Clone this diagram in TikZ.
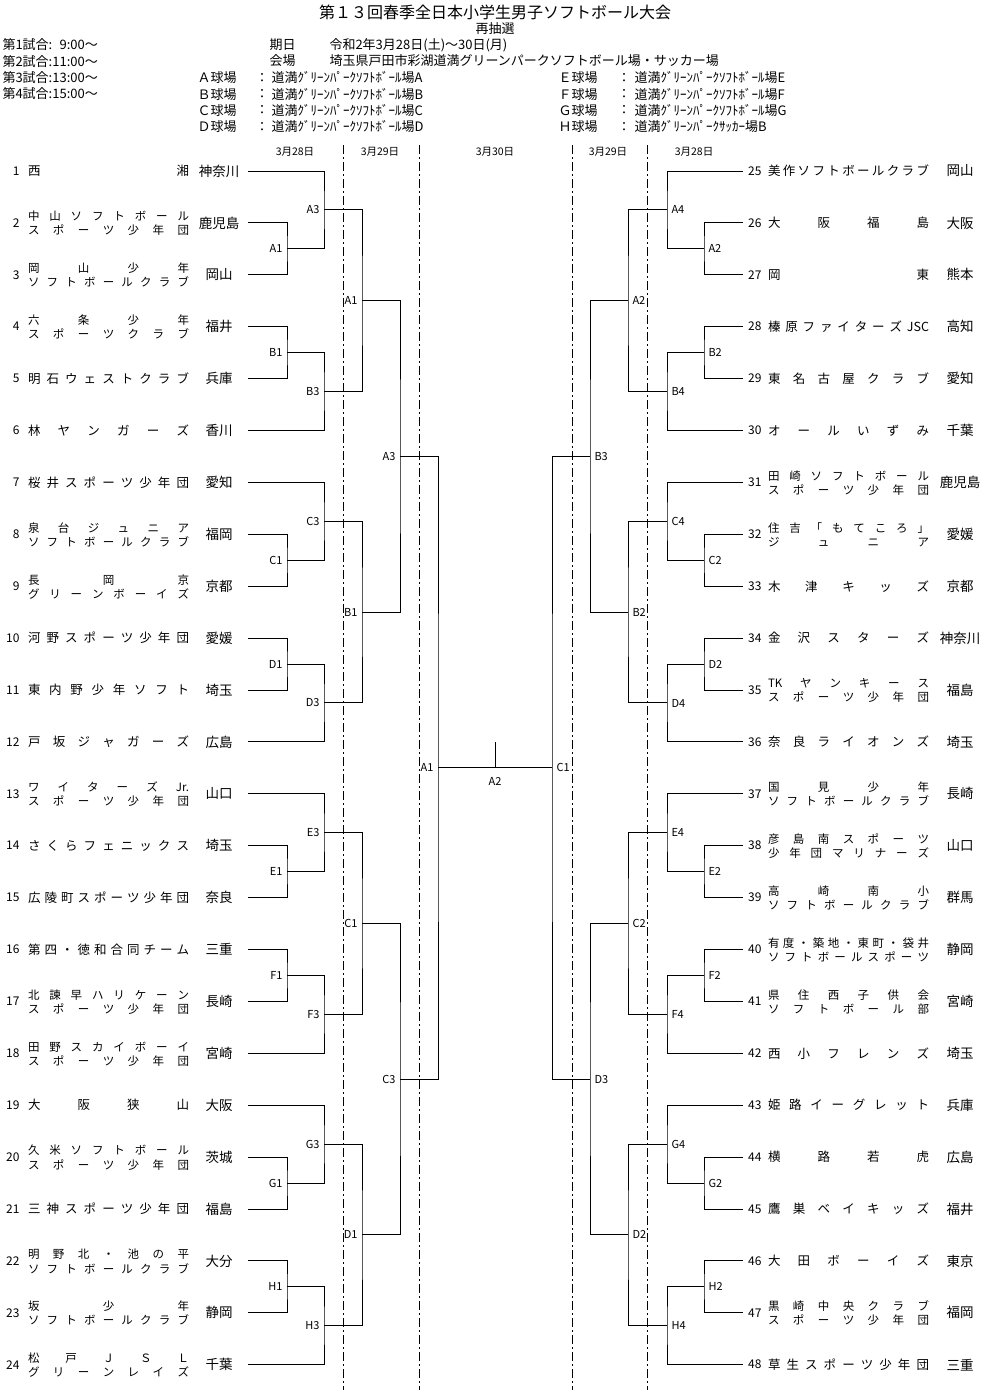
\documentclass[tikz,border=0pt]{standalone}
\usepackage{fontspec}
\setmainfont{Noto Sans CJK JP}
\usetikzlibrary{calc}

\newlength\namew
\setlength\namew{161pt}
% spread the characters of a team name over the name column
\def\spreadA#1#2\spreadend{#1\ifx\relax#2\else\hfill\spreadA#2\spreadend\fi}
\newcommand\teamnameA[1]{\hbox to\namew{\spreadA#1\relax\spreadend}}
\newcommand\teamname[1]{\expandafter\teamnameA\expandafter{#1}}
% one match: lines from both entries, vertical at x=#3, label #5
\newcommand\bracket[6]{%
  \path let \p1=(#1), \p2=(#2) in ({#3pt},{0.5*(\y1+\y2)}) coordinate (#4);
  \draw (#1) -| (#4) |- (#2);
  \node[#6] (l#4) at (#4) {#5};
}

\tikzset{
  title/.style={inner sep=0pt,font=\fontsize{16}{16}\selectfont},
  hdr/.style={inner sep=0pt,font=\fontsize{13}{13}\selectfont},
  dayhd/.style={inner sep=0pt,font=\fontsize{10.5}{10.5}\selectfont},
  daysep/.style={line width=0.8pt,dash pattern=on 9pt off 3pt on 2pt off 3pt},
  numL/.style={anchor=east,inner sep=0pt,font=\fontsize{12}{12}\selectfont},
  numR/.style={numL},
  name1/.style={anchor=west,inner sep=0pt,font=\fontsize{12.5}{12.5}\selectfont},
  name2/.style={anchor=west,inner sep=0pt,font=\fontsize{11.5}{11.5}\selectfont},
  pref/.style={inner sep=0pt,font=\fontsize{13.5}{13.5}\selectfont},
  lbl/.style={inner sep=0pt,font=\fontsize{11}{11}\selectfont},
  lblL/.style={lbl,anchor=east,xshift=-4pt},
  lblR/.style={lbl,anchor=west,xshift=4pt}
}

\begin{document}
\begin{tikzpicture}[x=1pt,y=-1pt,line width=1pt]
		%%%%% START %%%%%
		\useasboundingbox (0,0) rectangle (990,1392);
		\fill[white] (0,0) rectangle (990,1392);
		
		% header
		\node[title] (ttl) at (495,12) {第１３回春季全日本小学生男子ソフトボール大会};
		\node[hdr] (sub) at (495,29) {再抽選};
		\foreach \gm/\tm in {1/\phantom{1}9:00,2/11:00,3/13:00,4/15:00}{
			\node[hdr,anchor=west] (g\gm) at (2,{45+16.2*(\gm-1)}) {第\gm 試合:\tm～};
		}
		\node[hdr,anchor=west] (kd) at (269,45) {期日};
		\node[hdr,anchor=west] (kdv) at (329,45) {令和2年3月28日(土)～30日(月)};
		\node[hdr,anchor=west] (kj) at (269,61) {会場};
		\node[hdr,anchor=west] (kjv) at (329,61) {埼玉県戸田市彩湖道満グリーンパークソフトボール場・サッカー場};
		\foreach \row/\fl/\vl/\fr/\vr in {0/Ａ/ｿﾌﾄﾎﾞｰﾙ場A/Ｅ/ｿﾌﾄﾎﾞｰﾙ場E,1/Ｂ/ｿﾌﾄﾎﾞｰﾙ場B/Ｆ/ｿﾌﾄﾎﾞｰﾙ場F,
				2/Ｃ/ｿﾌﾄﾎﾞｰﾙ場C/Ｇ/ｿﾌﾄﾎﾞｰﾙ場G,3/Ｄ/ｿﾌﾄﾎﾞｰﾙ場D/Ｈ/ｻｯｶｰ場B}{
			\node[hdr,anchor=west] (fa\row) at (197,{78+16.2*\row}) {\fl 球場};
			\node[hdr,anchor=west] (ca\row) at (255,{78+16.2*\row}) {：};
			\node[hdr,anchor=west] (va\row) at (271,{78+16.2*\row}) {道満ｸﾞﾘｰﾝﾊﾟｰｸ\vl};
			\node[hdr,anchor=west] (fb\row) at (558,{78+16.2*\row}) {\fr 球場};
			\node[hdr,anchor=west] (cb\row) at (617,{78+16.2*\row}) {：};
			\node[hdr,anchor=west] (vb\row) at (634,{78+16.2*\row}) {道満ｸﾞﾘｰﾝﾊﾟｰｸ\vr};
		}
		
		% day columns
		\foreach \x in {343,419,572,647}{
			\draw[daysep] (\x,145) -- (\x,1390);
		}
		\foreach \x/\d in {295/28,380/29,495/30,608/29,694/28}{
			\node[dayhd] (d\x) at (\x,152) {3月\d 日};
		}
		
		% teams, one line
		\foreach \num/\lna/\pref in {1/西湘/神奈川,5/明石ウェストクラブ/兵庫,6/林ヤンガーズ/香川,
				7/桜井スポーツ少年団/愛知,10/河野スポーツ少年団/愛媛,11/東内野少年ソフト/埼玉,
				12/戸坂ジャガーズ/広島,14/さくらフェニックス/埼玉,15/広陵町スポーツ少年団/奈良,
				16/第四・徳和合同チーム/三重,19/大阪狭山/大阪,21/三神スポーツ少年団/福島,
				25/美作ソフトボールクラブ/岡山,26/大阪福島/大阪,27/岡東/熊本,
				28/榛原ファイターズ{JSC}/高知,29/東名古屋クラブ/愛知,30/オールいずみ/千葉,
				33/木津キッズ/京都,34/金沢スターズ/神奈川,36/奈良ライオンズ/埼玉,
				42/西小フレンズ/埼玉,43/姫路イーグレット/兵庫,44/横路若虎/広島,
				45/鷹巣ベイキッズ/福井,46/大田ボーイズ/東京,48/草生スポーツ少年団/三重}{
			\pgfmathsetmacro\ty{171+51.9*mod(\num-1,24)}
			\ifnum\num<25
				\node[numL] (n\num) at (20,\ty) {\num};
				\node[name1] (t\num) at (27.5,\ty) {\teamname\lna};
				\node[pref] (p\num) at (219,\ty) {\pref};
				\coordinate (e\num) at (248,\ty);
			\else
				\node[numR] (n\num) at (762,\ty) {\num};
				\node[name1] (t\num) at (767.5,\ty) {\teamname\lna};
				\node[pref] (p\num) at (960,\ty) {\pref};
				\coordinate (e\num) at (743,\ty);
			\fi
		}
		
		% teams, two lines
		\foreach \num/\lna/\lnb/\pref in {2/中山ソフトボール/スポーツ少年団/鹿児島,
				3/岡山少年/ソフトボールクラブ/岡山,4/六条少年/スポーツクラブ/福井,
				8/泉台ジュニア/ソフトボールクラブ/福岡,9/長岡京/グリーンボーイズ/京都,
				13/ワイターズ{Jr.}/スポーツ少年団/山口,17/北諫早ハリケーン/スポーツ少年団/長崎,
				18/田野スカイボーイ/スポーツ少年団/宮崎,20/久米ソフトボール/スポーツ少年団/茨城,
				22/明野北・池の平/ソフトボールクラブ/大分,23/坂少年/ソフトボールクラブ/静岡,
				24/松戸ＪＳＬ/グリーンレイズ/千葉,
				31/田崎ソフトボール/スポーツ少年団/鹿児島,32/住吉「もてころ」/ジュニア/愛媛,
				35/{TK}ヤンキース/スポーツ少年団/福島,37/国見少年/ソフトボールクラブ/長崎,
				38/彦島南スポーツ/少年団マリナーズ/山口,39/高崎南小/ソフトボールクラブ/群馬,
				40/有度・築地・東町・袋井/ソフトボールスポーツ/静岡,
				41/県住西子供会/ソフトボール部/宮崎,47/黒崎中央クラブ/スポーツ少年団/福岡}{
			\pgfmathsetmacro\ty{171+51.9*mod(\num-1,24)}
			\ifnum\num<25
				\node[numL] (n\num) at (20,\ty) {\num};
				\node[name2] (t\num a) at (27.5,\ty-6.5) {\teamname\lna};
				\node[name2] (t\num b) at (27.5,\ty+7.5) {\teamname\lnb};
				\node[pref] (p\num) at (219,\ty) {\pref};
				\coordinate (e\num) at (248,\ty);
			\else
				\node[numR] (n\num) at (762,\ty) {\num};
				\node[name2] (t\num a) at (767.5,\ty-6.5) {\teamname\lna};
				\node[name2] (t\num b) at (767.5,\ty+7.5) {\teamname\lnb};
				\node[pref] (p\num) at (960,\ty) {\pref};
				\coordinate (e\num) at (743,\ty);
			\fi
		}
		
		% 3月28日
		\foreach \g/\gp in {0/A,1/B,2/C,3/D,4/E,5/F,6/G,7/H}{
			\pgfmathtruncatemacro\ta{3*\g+1}
			\pgfmathtruncatemacro\tb{3*\g+2}
			\pgfmathtruncatemacro\tc{3*\g+3}
			\pgfmathtruncatemacro\ra{3*\g+25}
			\pgfmathtruncatemacro\rb{3*\g+26}
			\pgfmathtruncatemacro\rc{3*\g+27}
			\ifodd\g
				\bracket{e\ta}{e\tb}{287}{L1\gp1}{\gp1}{lblL}
				\bracket{L1\gp1}{e\tc}{324}{L1\gp3}{\gp3}{lblL}
				\bracket{e\ra}{e\rb}{704}{R1\gp2}{\gp2}{lblR}
				\bracket{R1\gp2}{e\rc}{667}{R1\gp4}{\gp4}{lblR}
			\else
				\bracket{e\tb}{e\tc}{287}{L1\gp1}{\gp1}{lblL}
				\bracket{e\ta}{L1\gp1}{324}{L1\gp3}{\gp3}{lblL}
				\bracket{e\rb}{e\rc}{704}{R1\gp2}{\gp2}{lblR}
				\bracket{e\ra}{R1\gp2}{667}{R1\gp4}{\gp4}{lblR}
			\fi
		}
		
		% 3月29日
		\foreach \ga/\gb/\lb in {A/B/A1,C/D/B1,E/F/C1,G/H/D1}{
			\bracket{L1\ga3}{L1\gb3}{362}{L2\lb}{\lb}{lblL}
		}
		\foreach \ga/\gb/\lb in {A/B/A2,C/D/B2,E/F/C2,G/H/D2}{
			\bracket{R1\ga4}{R1\gb4}{628}{R2\lb}{\lb}{lblR}
		}
		\bracket{L2A1}{L2B1}{400}{L3A3}{A3}{lblL}
		\bracket{L2C1}{L2D1}{400}{L3C3}{C3}{lblL}
		\bracket{R2A2}{R2B2}{590}{R3B3}{B3}{lblR}
		\bracket{R2C2}{R2D2}{590}{R3D3}{D3}{lblR}
		
		% 3月30日
		\bracket{L3A3}{L3C3}{438}{L4A1}{A1}{lblL}
		\bracket{R3B3}{R3D3}{552}{R4C1}{C1}{lblR}
		\draw (L4A1) -- coordinate (fin) (R4C1);
		\draw (fin) -- ++(0,-26);
		\node[lbl] (lfin) at ($(fin)+(0,14)$) {A2};
		
		%%%%% END %%%%%
	\end{tikzpicture}
\end{document}
